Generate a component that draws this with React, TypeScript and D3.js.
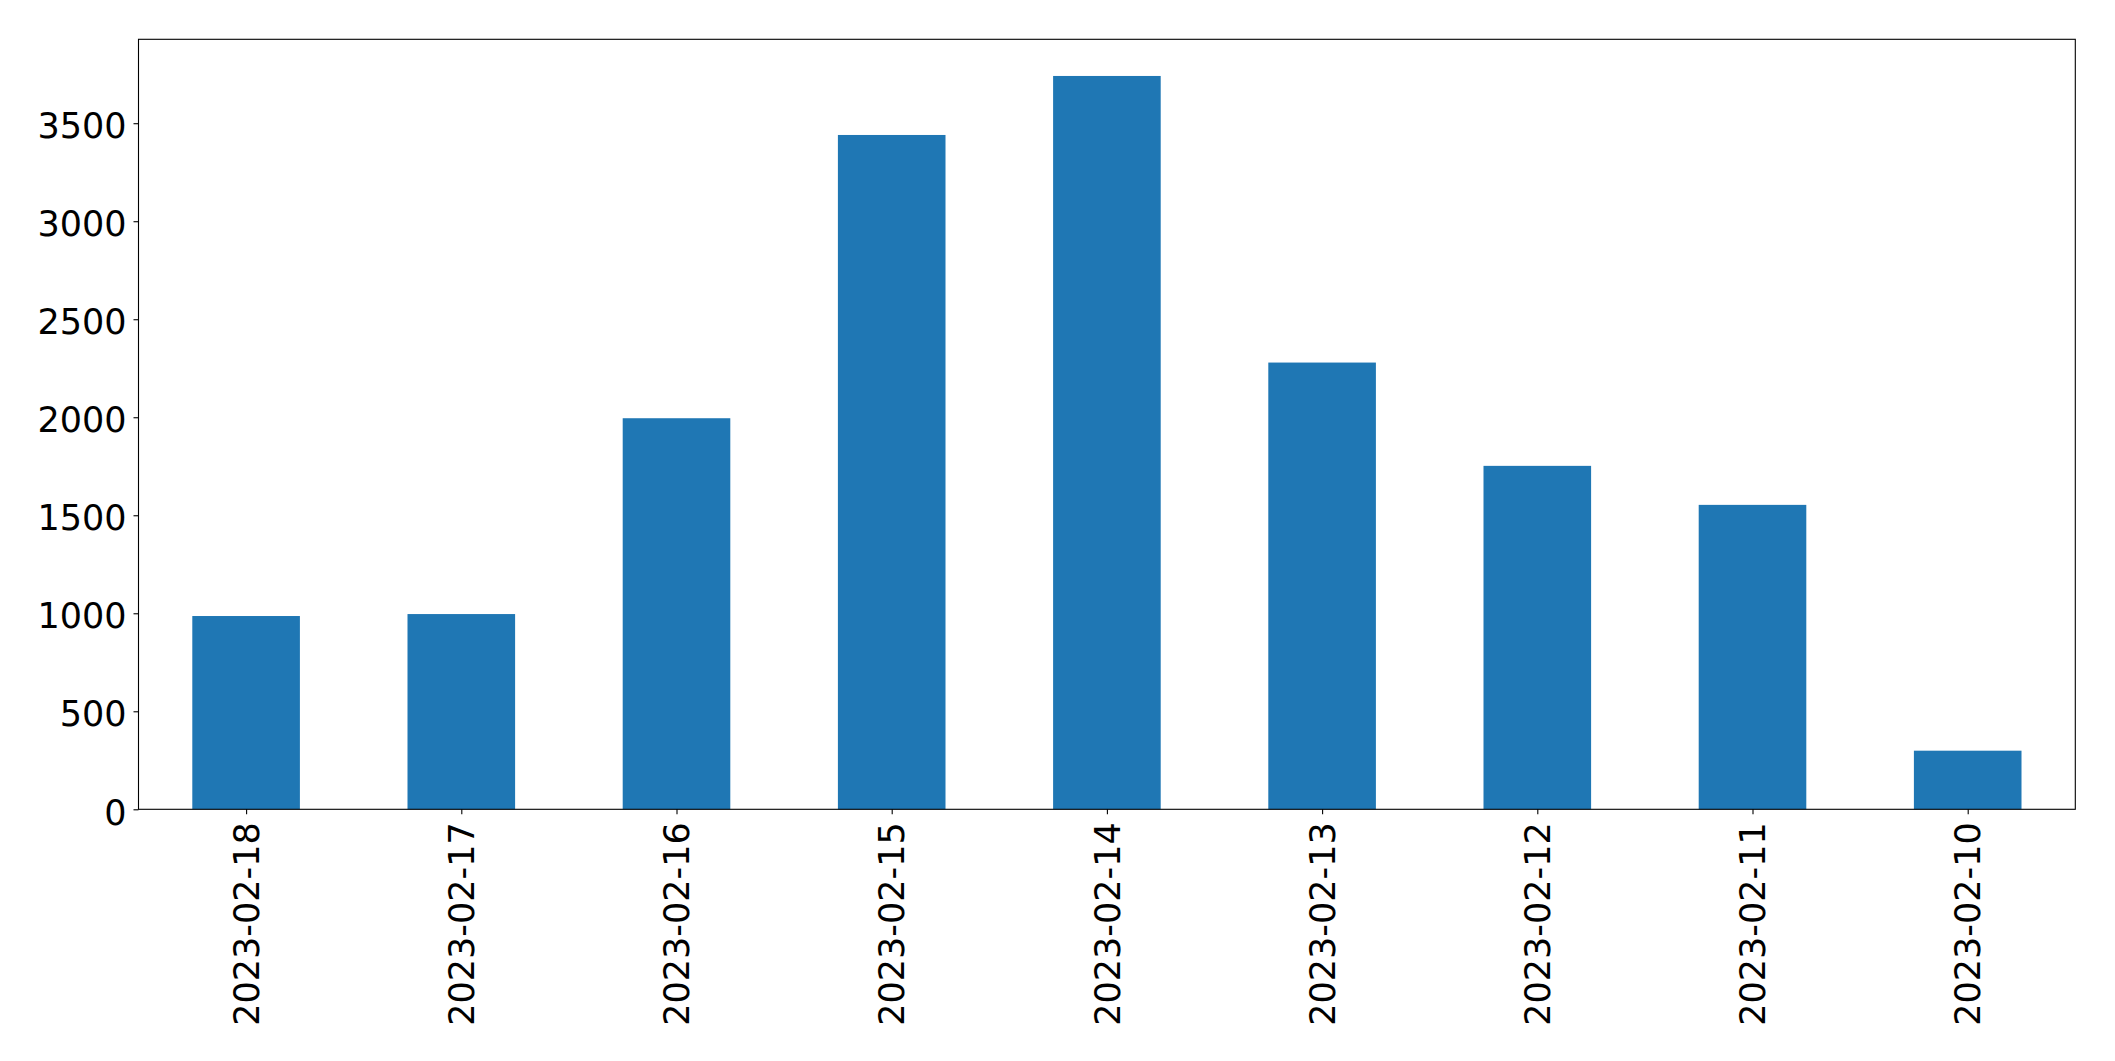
import { useRef, useEffect } from 'react';
import * as d3 from 'd3';

const dates = [
  '2023-02-18', '2023-02-17', '2023-02-16', '2023-02-15', '2023-02-14',
  '2023-02-13', '2023-02-12', '2023-02-11', '2023-02-10',
];
const counts = [986, 996, 1995, 3440, 3741, 2279, 1752, 1553, 299];
const yTicks = [0, 500, 1000, 1500, 2000, 2500, 3000, 3500];

const W = 2115;
const H = 1061;
const margin = { top: 39.3, right: 2115 - 2075.3, bottom: 1061 - 809.3, left: 138.5 };
const FONT = '"DejaVu Sans", sans-serif';

export default function App() {
  const svgRef = useRef<SVGSVGElement>(null);

  useEffect(() => {
    if (!svgRef.current) return;
    const svg = d3.select(svgRef.current);
    svg.selectAll('*').remove();

    const innerW = W - margin.left - margin.right;
    const innerH = H - margin.top - margin.bottom;

    // pandas-style bar plot: unit steps, bar width 0.5, limits -0.5..n-0.5
    const x = d3.scaleLinear()
      .domain([-0.5, dates.length - 0.5])
      .range([0, innerW]);

    const y = d3.scaleLinear()
      .domain([0, (d3.max(counts) as number) * 1.05])
      .range([innerH, 0]);

    const g = svg.append('g')
      .attr('transform', `translate(${margin.left},${margin.top})`);

    g.selectAll('rect.bar')
      .data(counts)
      .join('rect')
      .attr('class', 'bar')
      .attr('x', (_, i) => x(i - 0.25))
      .attr('width', x(0.25) - x(-0.25))
      .attr('y', d => y(d))
      .attr('height', d => innerH - y(d))
      .attr('fill', '#1f77b4');

    const yAxis = g.append('g')
      .call(d3.axisLeft(y).tickValues(yTicks).tickSize(5).tickPadding(7).tickFormat(d3.format('d')));

    const xAxis = g.append('g')
      .attr('transform', `translate(0,${innerH})`)
      .call(d3.axisBottom(x).tickValues(d3.range(dates.length)).tickSize(5).tickPadding(0)
        .tickFormat((_, i) => dates[i]));

    [yAxis, xAxis].forEach(a => {
      a.select('.domain').remove();
      a.selectAll('line').attr('stroke', '#000').attr('stroke-width', 1.1);
      a.selectAll('text')
        .attr('fill', '#000')
        .style('font-family', FONT)
        .style('font-size', '35px');
    });

    yAxis.selectAll('text').attr('dy', '0.42em');

    xAxis.selectAll('text')
      .attr('transform', 'rotate(-90)')
      .attr('text-anchor', 'end')
      .attr('x', -13)
      .attr('y', 0)
      .attr('dy', '0.35em');

    g.append('rect')
      .attr('x', 0)
      .attr('y', 0)
      .attr('width', innerW)
      .attr('height', innerH)
      .attr('fill', 'none')
      .attr('stroke', '#000')
      .attr('stroke-width', 1.1);
  }, []);

  return (
    <div style={{ position: 'absolute', left: 0, top: 0, background: '#fff' }}>
      <svg ref={svgRef} width={W} height={H} style={{ display: 'block' }} />
    </div>
  );
}
